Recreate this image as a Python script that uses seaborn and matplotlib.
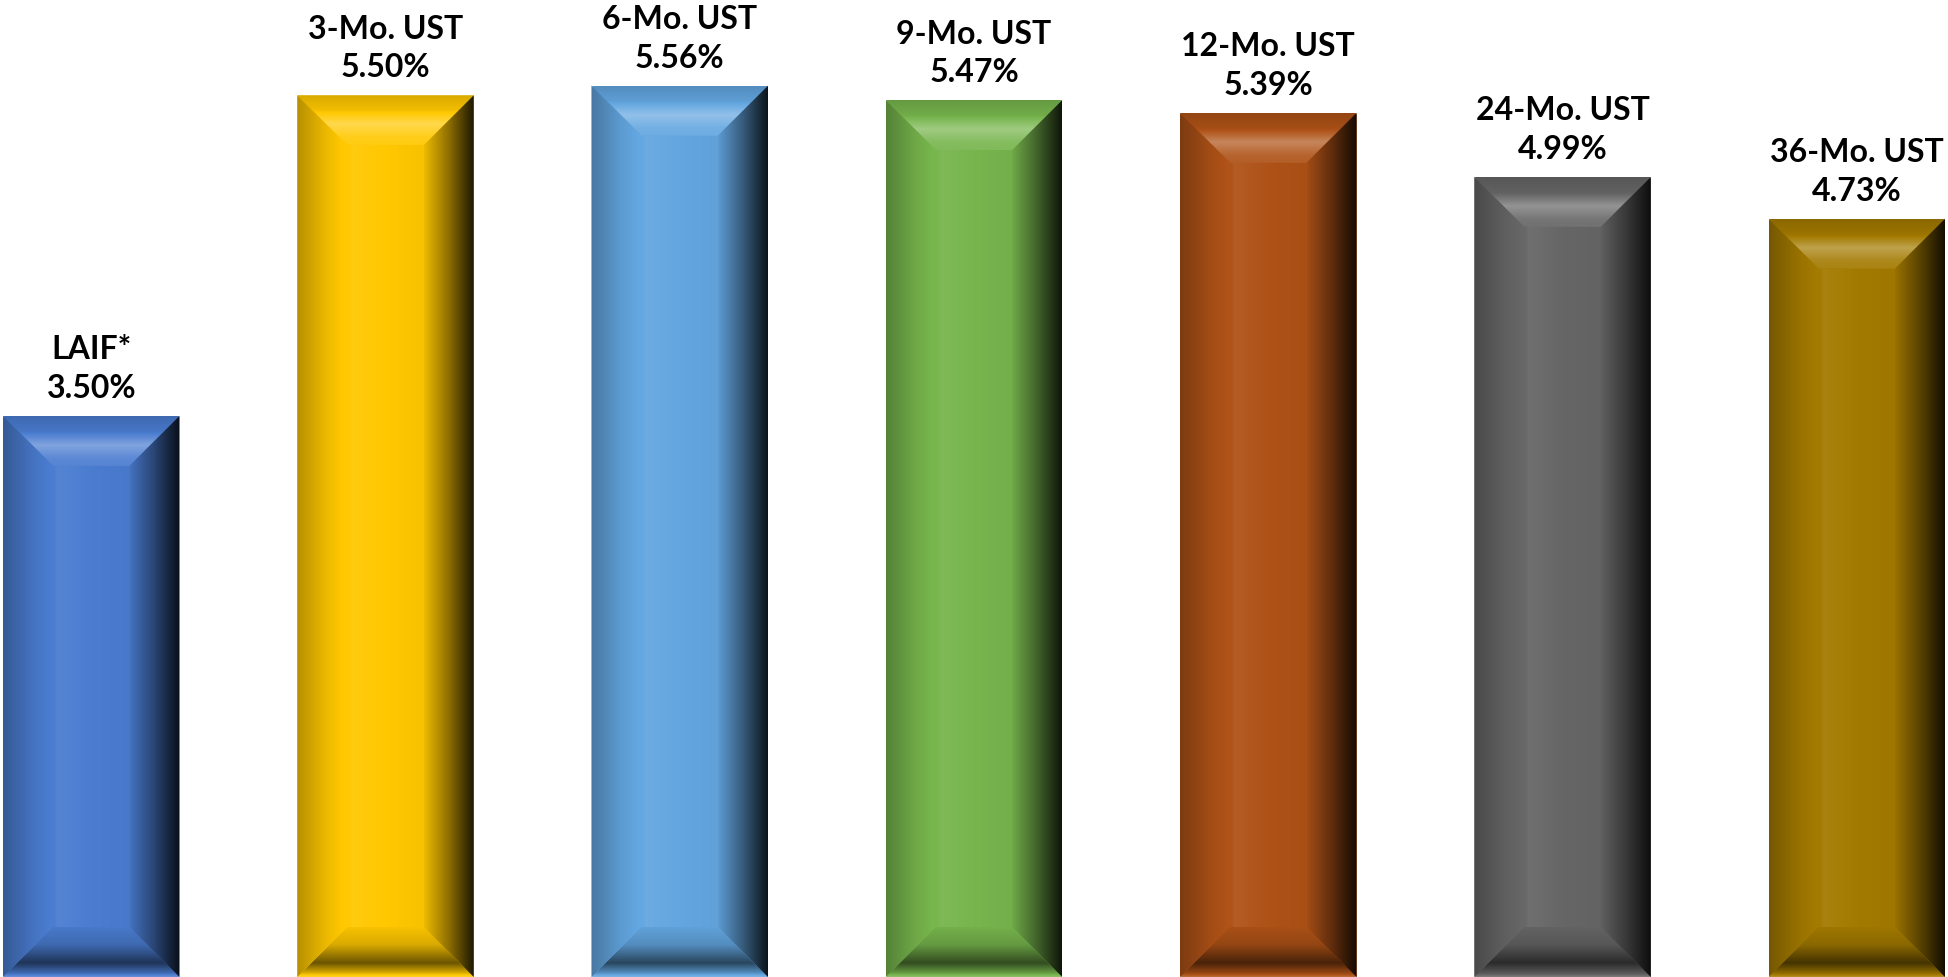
import numpy as np
import matplotlib.pyplot as plt
from matplotlib.patches import Polygon
import seaborn as sns

names = ["LAIF*", "3-Mo. UST", "6-Mo. UST", "9-Mo. UST", "12-Mo. UST", "24-Mo. UST", "36-Mo. UST"]
rates = [3.50, 5.50, 5.56, 5.47, 5.39, 4.99, 4.73]
bar_colors = ["#4A7CD0", "#FFC800", "#63A6E0", "#77B54D", "#AE5217", "#666666", "#A37A00"]

sns.set_theme(style="white")
plt.rcParams["font.family"] = ["Lato", "DejaVu Sans"]

fig = plt.figure(figsize=(19.48, 9.78), dpi=100)
ax = fig.add_axes([0, 0, 1, 1])
sns.barplot(x=names, y=rates, hue=names, palette=bar_colors, width=0.6,
            saturation=1, legend=False, ax=ax)

xlim = (-0.31, 6.31)
ylim = (0, 6.1)

# bevel size ~50 px, converted to data units
dx = 50 * (xlim[1] - xlim[0]) / 1948
dy = 50 * (ylim[1] - ylim[0]) / 978


def ramp(rgb, ts, fs, n=80):
    # f < 1 darkens, f > 1 blends toward white
    t = np.linspace(0, 1, n)
    f = np.interp(t, ts, fs)[:, None]
    rgb = np.array(rgb[:3])[None, :]
    dark = rgb * f
    light = rgb + (1 - rgb) * (f - 1)
    return np.clip(np.where(f <= 1, dark, light), 0, 1)


def grad(arr, extent, poly):
    im = ax.imshow(arr, extent=extent, origin="upper", aspect="auto",
                   interpolation="bilinear", zorder=3)
    patch = Polygon(poly, closed=True, transform=ax.transData)
    im.set_clip_path(patch)


bars = sorted(ax.patches, key=lambda p: p.get_x())
for p, name, rate in zip(bars, names, rates):
    x0 = p.get_x()
    x1 = x0 + p.get_width()
    y1 = p.get_height()
    c = p.get_facecolor()

    # face: slight light stripe on the left
    face = ramp(c, [0, 0.06, 0.5, 1], [1.0, 1.06, 1.0, 0.97])[None, :, :]
    grad(face, (x0 + dx, x1 - dx, dy, y1 - dy),
         [(x0 + dx, dy), (x1 - dx, dy), (x1 - dx, y1 - dy), (x0 + dx, y1 - dy)])

    # top bevel: outer -> inner
    top = ramp(c, [0, 0.3, 0.58, 0.85, 1], [0.85, 0.95, 1.3, 1.1, 1.07])[:, None, :]
    grad(top, (x0, x1, y1 - dy, y1),
         [(x0, y1), (x1, y1), (x1 - dx, y1 - dy), (x0 + dx, y1 - dy)])

    # bottom bevel: inner -> outer
    bot = ramp(c, [0, 0.35, 0.72, 0.92, 1], [0.97, 0.85, 0.42, 0.85, 1.15])[:, None, :]
    grad(bot, (x0, x1, 0, dy),
         [(x0, 0), (x1, 0), (x1 - dx, dy), (x0 + dx, dy)])

    # left bevel: outer -> inner
    left = ramp(c, [0, 0.6, 1], [0.72, 0.93, 1.02])[None, :, :]
    grad(left, (x0, x0 + dx, 0, y1),
         [(x0, y1), (x0 + dx, y1 - dy), (x0 + dx, dy), (x0, 0)])

    # right bevel: inner -> outer
    right = ramp(c, [0, 0.5, 1], [0.93, 0.55, 0.12])[None, :, :]
    grad(right, (x1 - dx, x1, 0, y1),
         [(x1, y1), (x1 - dx, y1 - dy), (x1 - dx, dy), (x1, 0)])

    ax.annotate(f"{name}\n{rate:.2f}%", xy=((x0 + x1) / 2, y1),
                xytext=(0, 10), textcoords="offset points",
                ha="center", va="bottom", fontsize=23, fontweight="bold",
                linespacing=1.4, color="black", zorder=5)

ax.set_xlim(*xlim)
ax.set_ylim(*ylim)
ax.axis("off")

fig.savefig("out.png", dpi=100, facecolor="white")
